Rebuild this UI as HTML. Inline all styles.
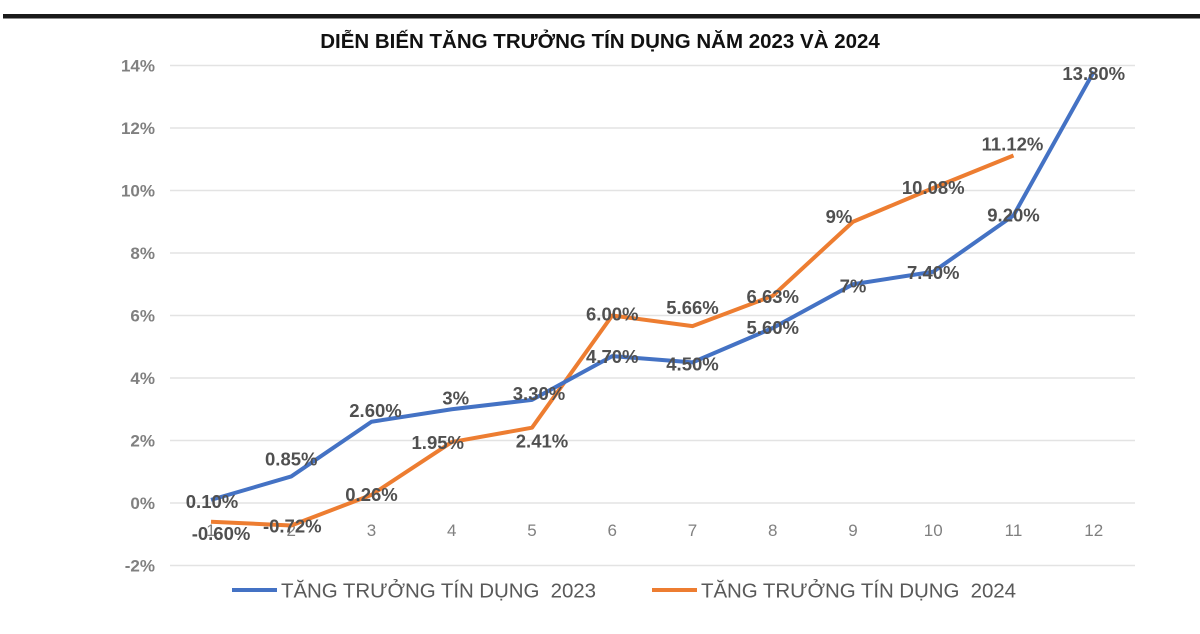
<!DOCTYPE html>
<html><head><meta charset="utf-8"><style>
body{margin:0;background:#fff;width:1200px;height:629px;overflow:hidden;font-family:"Liberation Sans",sans-serif}
text{white-space:pre}
</style></head><body>
<svg width="1200" height="629">
<rect x="3" y="14" width="1197" height="4.5" fill="#1a1a1a"/>
<text x="600" y="48" text-anchor="middle" font-size="20.5" font-weight="bold" fill="#111">DIỄN BIẾN TĂNG TRƯỞNG TÍN DỤNG NĂM 2023 VÀ 2024</text>
<g id="grid"></g><g id="lines"></g><g id="labels"></g>
<g>
<line x1="232" y1="590" x2="277" y2="590" stroke="#4472c4" stroke-width="4"/>
<text x="281" y="597.5" font-size="20.5" fill="#595959" textLength="315">TĂNG TRƯỞNG TÍN DỤNG  2023</text>
<line x1="652" y1="590" x2="697" y2="590" stroke="#ed7d31" stroke-width="4"/>
<text x="701" y="597.5" font-size="20.5" fill="#595959" textLength="315">TĂNG TRƯỞNG TÍN DỤNG  2024</text>
</g>
</svg>
<script>
const categories=[1,2,3,4,5,6,7,8,9,10,11,12];
const yTicks=[-2,0,2,4,6,8,10,12,14];
const values2023=[0.10,0.85,2.60,3,3.30,4.70,4.50,5.60,7,7.40,9.20,13.80];
const labels2023=["0.10%","0.85%","2.60%","3%","3.30%","4.70%","4.50%","5.60%","7%","7.40%","9.20%","13.80%"];
const values2024=[-0.60,-0.72,0.26,1.95,2.41,6.00,5.66,6.63,9,10.08,11.12];
const labels2024=["-0.60%","-0.72%","0.26%","1.95%","2.41%","6.00%","5.66%","6.63%","9%","10.08%","11.12%"];
const NS="http://www.w3.org/2000/svg";
const x=i=>211+80.25*i;
const y=v=>503-31.25*v;
const grid=document.getElementById('grid'),lines=document.getElementById('lines'),labs=document.getElementById('labels');
function mk(tag,attrs,parent){const e=document.createElementNS(NS,tag);for(const k in attrs)e.setAttribute(k,attrs[k]);parent.appendChild(e);return e;}
yTicks.forEach(t=>{
 const l=mk('line',{x1:170,x2:1135,y1:y(t),y2:y(t),stroke:'#e3e3e3','stroke-width':1.5},grid);
 
 
 const tx=mk('text',{x:155,y:y(t)+6,'text-anchor':'end','font-size':17,'font-weight':'bold',fill:'#808080'},grid);
 tx.textContent=t+'%';
 
 
});
categories.forEach((c,i)=>{
 const tx=mk('text',{x:x(i),y:y(0)+33,'text-anchor':'middle','font-size':17,fill:'#808080'},grid);
 tx.textContent=c;
 
 
});
function series(vals,color,name){
 const p=mk('polyline',{points:vals.map((v,i)=>x(i)+','+y(v)).join(' '),fill:'none',stroke:color,'stroke-width':4,'stroke-linejoin':'round'},lines);
 
 
}
series(values2024,'#ed7d31','line-2024');
series(values2023,'#4472c4','line-2023');
const off23=[[1,1],[0,-18],[4,-12],[4,-12],[7,-7],[0,0],[0,1],[0,-1],[0,1],[0,0],[0,-1],[0,1]];
const off24=[[10,11],[1,0],[0,-1],[-14,0],[10,13],[0,-2],[0,-19],[0,0],[-14,-6],[0,-1],[-1,-12]];
function dl(vals,labels,off,name){
 vals.forEach((v,i)=>{
  const t=mk('text',{x:x(i)+off[i][0],y:y(v)+off[i][1]+7,'text-anchor':'middle','font-size':18.5,'font-weight':'bold',fill:'#505050'},labs);
  t.textContent=labels[i];
  
  
 });
}
dl(values2023,labels2023,off23,'data-label-2023');
dl(values2024,labels2024,off24,'data-label-2024');
</script>
</body></html>
